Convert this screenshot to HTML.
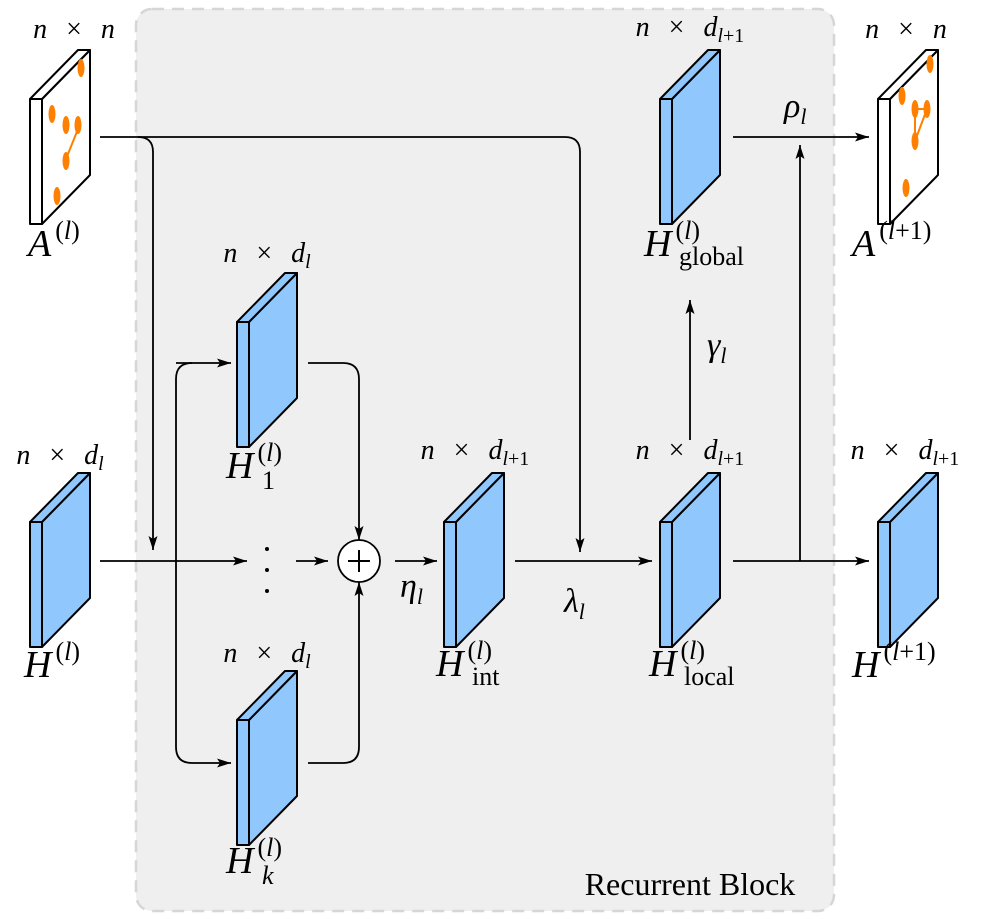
<!DOCTYPE html>
<html><head><meta charset="utf-8"><style>
html,body{margin:0;padding:0;background:#fff}
svg{display:block}
text{font-family:"Liberation Serif",serif;fill:#000}
.it{font-style:italic}
.dim{word-spacing:12px}
</style></head><body>
<svg width="988" height="919" viewBox="0 0 988 919" xmlns="http://www.w3.org/2000/svg">
<defs>
<marker id="ah" viewBox="0 0 14 10" refX="14" refY="5" markerWidth="14" markerHeight="10" markerUnits="userSpaceOnUse" orient="auto"><path d="M0,0.5 L14,5 L0,9.5 L3,5 z" fill="#000"/></marker>
<g id="blk"><rect x="0" y="0" width="12" height="125" stroke="#000" stroke-width="2" stroke-linejoin="round"/><path d="M12,0 L60,-49 L60,76 L12,125 Z" stroke="#000" stroke-width="2" stroke-linejoin="round"/><path d="M0,0 L48,-49 L60,-49 L12,0 Z" stroke="#000" stroke-width="2" stroke-linejoin="round"/></g>
</defs>
<rect x="136" y="9" width="698" height="902" rx="16" fill="#efefef" stroke="#d6d6d6" stroke-width="2.5" stroke-dasharray="12,8"/>
<text x="690" y="895" font-size="32" text-anchor="middle">Recurrent Block</text>

<g transform="translate(30,99)" fill="#fff"><use href="#blk"/>
<g fill="#ff8000"><ellipse cx="51" cy="-31" rx="3.5" ry="9"/><ellipse cx="22" cy="15" rx="3.5" ry="9"/><ellipse cx="36" cy="26" rx="3.5" ry="9"/><ellipse cx="48" cy="26" rx="3.5" ry="9"/><ellipse cx="36" cy="62" rx="3.5" ry="9"/><ellipse cx="27" cy="97" rx="3.5" ry="9"/></g>
<line x1="48" y1="30" x2="36" y2="60" stroke="#ff8000" stroke-width="2"/></g>
<g transform="translate(878,99)" fill="#fff"><use href="#blk"/>
<g fill="#ff8000"><ellipse cx="52" cy="-35" rx="3.5" ry="9"/><ellipse cx="24" cy="-3" rx="3.5" ry="9"/><ellipse cx="37" cy="10" rx="3.5" ry="9"/><ellipse cx="49" cy="10" rx="3.5" ry="9"/><ellipse cx="37" cy="42" rx="3.5" ry="9"/><ellipse cx="28" cy="89" rx="3.5" ry="9"/></g>
<path d="M37,10 L49,10 L37,42 Z" fill="none" stroke="#ff8000" stroke-width="2"/></g>

<g fill="#90c8fe">
<use href="#blk" x="30" y="522"/>
<use href="#blk" x="237" y="322"/>
<use href="#blk" x="237" y="720"/>
<use href="#blk" x="444" y="522"/>
<use href="#blk" x="660" y="522"/>
<use href="#blk" x="660" y="99"/>
<use href="#blk" x="878" y="522"/>
</g>

<g fill="none" stroke="#000" stroke-width="1.8">
<path d="M100,137 H565 Q580,137 580,152 V552" marker-end="url(#ah)"/>
<path d="M138,137 Q153,137 153,152 V550" marker-end="url(#ah)"/>
<path d="M100,561 H247" marker-end="url(#ah)"/>
<path d="M296,561 H328" marker-end="url(#ah)"/>
<path d="M192,363 Q176,363 176,379 V747 Q176,763 192,763 H231" marker-end="url(#ah)"/>
<path d="M176,363 H231" marker-end="url(#ah)"/>
<path d="M308,363 H343 Q359,363 359,379 V540" marker-end="url(#ah)"/>
<path d="M308,763 H343 Q359,763 359,747 V582" marker-end="url(#ah)"/>
<path d="M395,561 H437" marker-end="url(#ah)"/>
<path d="M515,561 H652" marker-end="url(#ah)"/>
<path d="M733,561 H869" marker-end="url(#ah)"/>
<path d="M800,561 V145" marker-end="url(#ah)"/>
<path d="M733,137 H869" marker-end="url(#ah)"/>
<path d="M690,440 V300" marker-end="url(#ah)"/>
</g>
<circle cx="359" cy="561" r="21" fill="#fff" stroke="#000" stroke-width="1.8"/>
<g stroke="#000" stroke-width="2"><line x1="348" y1="561" x2="370" y2="561"/><line x1="359" y1="550" x2="359" y2="572"/></g>
<g fill="#000"><circle cx="267" cy="549" r="2"/><circle cx="267" cy="570" r="2"/><circle cx="267" cy="591" r="2"/></g>

<g font-size="28">
<text class="dim" x="74" y="38" text-anchor="middle"><tspan class="it">n</tspan> × <tspan class="it">n</tspan></text>
<text class="dim" x="906" y="38" text-anchor="middle"><tspan class="it">n</tspan> × <tspan class="it">n</tspan></text>
<text class="dim" x="60" y="464" text-anchor="middle"><tspan class="it">n</tspan> × <tspan class="it">d</tspan><tspan class="it" font-size="20" dy="6">l</tspan></text>
<text class="dim" x="267" y="262" text-anchor="middle"><tspan class="it">n</tspan> × <tspan class="it">d</tspan><tspan class="it" font-size="20" dy="6">l</tspan></text>
<text class="dim" x="267" y="662" text-anchor="middle"><tspan class="it">n</tspan> × <tspan class="it">d</tspan><tspan class="it" font-size="20" dy="6">l</tspan></text>
<text class="dim" x="475" y="459" text-anchor="middle"><tspan class="it">n</tspan> × <tspan class="it">d</tspan><tspan font-size="20" dy="6"><tspan class="it">l</tspan>+1</tspan></text>
<text class="dim" x="690" y="459" text-anchor="middle"><tspan class="it">n</tspan> × <tspan class="it">d</tspan><tspan font-size="20" dy="6"><tspan class="it">l</tspan>+1</tspan></text>
<text class="dim" x="690" y="36" text-anchor="middle"><tspan class="it">n</tspan> × <tspan class="it">d</tspan><tspan font-size="20" dy="6"><tspan class="it">l</tspan>+1</tspan></text>
<text class="dim" x="905" y="459" text-anchor="middle"><tspan class="it">n</tspan> × <tspan class="it">d</tspan><tspan font-size="20" dy="6"><tspan class="it">l</tspan>+1</tspan></text>
</g>
<g font-size="38">
<text x="28" y="256"><tspan class="it">A</tspan><tspan font-size="26" dy="-17" dx="4">(<tspan class="it">l</tspan>)</tspan></text>
<text x="852" y="256"><tspan class="it">A</tspan><tspan font-size="26" dy="-17" dx="4">(<tspan class="it">l</tspan>+1)</tspan></text>
<text x="24" y="677"><tspan class="it">H</tspan><tspan font-size="26" dy="-17" dx="4">(<tspan class="it">l</tspan>)</tspan></text>
<text x="852" y="677"><tspan class="it">H</tspan><tspan font-size="26" dy="-17" dx="4">(<tspan class="it">l</tspan>+1)</tspan></text>
<text x="226" y="478"><tspan class="it">H</tspan><tspan font-size="26" dy="-17" dx="4">(<tspan class="it">l</tspan>)</tspan><tspan font-size="26" x="262" dy="28">1</tspan></text>
<text x="226" y="873"><tspan class="it">H</tspan><tspan font-size="26" dy="-17" dx="4">(<tspan class="it">l</tspan>)</tspan><tspan class="it" font-size="26" x="262" dy="28">k</tspan></text>
<text x="436" y="676"><tspan class="it">H</tspan><tspan font-size="26" dy="-17" dx="4">(<tspan class="it">l</tspan>)</tspan><tspan font-size="26" x="472" dy="26">int</tspan></text>
<text x="649" y="676"><tspan class="it">H</tspan><tspan font-size="26" dy="-17" dx="4">(<tspan class="it">l</tspan>)</tspan><tspan font-size="26" x="684" dy="26">local</tspan></text>
<text x="644" y="256"><tspan class="it">H</tspan><tspan font-size="26" dy="-17" dx="4">(<tspan class="it">l</tspan>)</tspan><tspan font-size="26" x="679" dy="26">global</tspan></text>
</g>
<g font-size="34">
<text x="400" y="597" class="it">η<tspan font-size="22" dy="7">l</tspan></text>
<text x="564" y="612" class="it">λ<tspan font-size="22" dy="7">l</tspan></text>
<text x="707" y="356" class="it">γ<tspan font-size="22" dy="7">l</tspan></text>
<text x="784" y="117" class="it">ρ<tspan font-size="22" dy="7">l</tspan></text>
</g>
</svg>
</body></html>
